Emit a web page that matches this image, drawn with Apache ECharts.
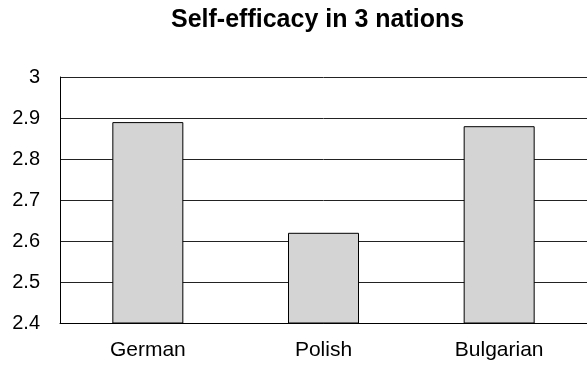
<!DOCTYPE html>
<html>
<head>
<meta charset="utf-8">
<script src="https://cdn.jsdelivr.net/npm/echarts@6/dist/echarts.min.js"></script>
<style>html,body{margin:0;padding:0;background:#fff}#c{width:587px;height:365px}</style>
</head>
<body>
<div id="c"></div>
<script>
const titleText = "Self-efficacy in 3 nations";
const categories = ["German", "Polish", "Bulgarian"];
const values = [2.89, 2.62, 2.88];
const yMin = 2.4, yMax = 3, yStep = 0.1;

const chart = echarts.init(document.getElementById('c'), null, {renderer: 'canvas'});
chart.setOption({
  animation: false,
  backgroundColor: '#fff',
  title: {
    text: titleText,
    left: 166, top: 3,
    textStyle: {fontFamily: 'Liberation Sans', fontWeight: 'bold', fontSize: 25, color: '#000'}
  },
  grid: {left: 60, top: 77, width: 534, height: 246, containLabel: false},
  xAxis: {
    type: 'category', data: categories,
    axisLine: {lineStyle: {color: '#000', width: 1}},
    axisTick: {show: false},
    axisLabel: {fontFamily: 'Liberation Sans', fontSize: 21, color: '#000', margin: 17}
  },
  yAxis: {
    type: 'value', min: yMin, max: yMax, interval: yStep,
    axisLine: {show: true, lineStyle: {color: '#000', width: 1}},
    axisTick: {show: false},
    splitLine: {lineStyle: {color: '#222', width: 1}},
    axisLabel: {fontFamily: 'Liberation Sans', fontSize: 20, color: '#000', margin: 20,
      formatter: v => String(Math.round(v * 10) / 10)}
  },
  series: [{
    type: 'bar', data: values, barWidth: 71,
    itemStyle: {color: '#d4d4d4', borderColor: '#000', borderWidth: 1}
  }]
});
</script>
</body>
</html>
